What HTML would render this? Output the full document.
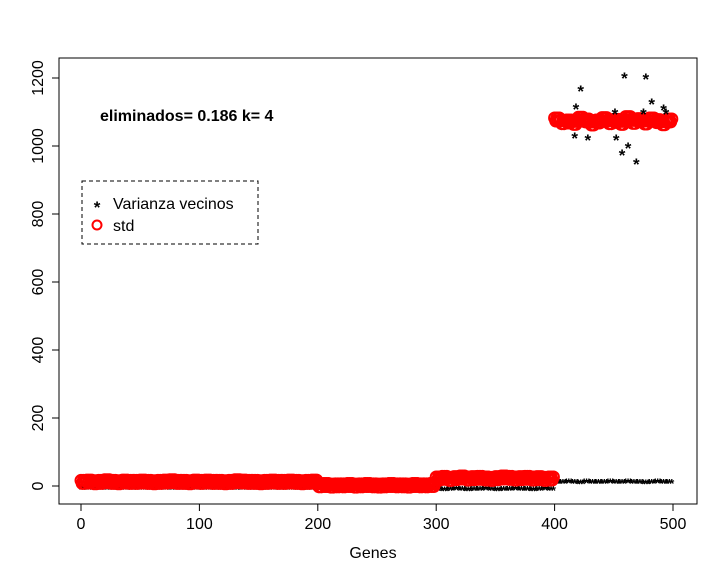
<!DOCTYPE html>
<html><head><meta charset="utf-8"><style>
body{margin:0;background:#fff}
svg text{font-family:"Liberation Sans",Arial,sans-serif}
</style></head><body>
<svg id="chart" width="720" height="576" viewBox="0 0 720 576">
<rect width="720" height="576" fill="#fff"/>
<g id="marks"></g>
<rect x="59" y="58" width="638" height="446" fill="none" stroke="#000" stroke-width="1"/>
<g id="axes"></g>
<text x="100" y="121" font-size="16" font-weight="bold">eliminados= 0.186 k= 4</text>
<g>
<rect x="82" y="181" width="176" height="63" fill="#fff" stroke="#000" stroke-dasharray="4,3"/>
<text x="97" y="213" font-size="17" font-weight="bold" text-anchor="middle">*</text>
<text x="113" y="209" font-size="16">Varianza vecinos</text>
<circle cx="97" cy="225" r="4.5" fill="none" stroke="#f00" stroke-width="2"/>
<text x="113" y="231" font-size="16">std</text>
</g>
<text x="373" y="558" font-size="16" text-anchor="middle">Genes</text>
</svg>
<script>
// genes sampled every 5
const stdValues=[12,13,11,12,14,12,11,13,12,12,13,12,11,12,13,14,12,12,11,13,12,13,12,12,11,12,14,13,12,12,11,12,13,12,12,13,12,11,12,13,
2,3,1,2,2,3,1,2,3,2,1,2,3,2,2,1,3,2,2,3,
22,24,21,23,25,22,23,24,22,21,23,25,24,22,23,24,22,23,21,22,
1078,1070,1072,1068,1080,1075,1066,1072,1079,1070,1074,1068,1082,1071,1076,1069,1078,1073,1067,1075];
const vecinosValues=[0,0,0,0,0,0,0,0,0,0,0,0,0,0,0,0,0,0,0,0,0,0,0,0,0,0,0,0,0,0,0,0,0,0,0,0,0,0,0,0,
0,0,0,0,0,0,0,0,0,0,0,0,0,0,0,0,0,0,0,0,
-3,-4,-3,-2,-3,-4,-3,-3,-2,-3,-4,-3,-3,-2,-3,-3,-4,-3,-2,-3,
18,17,19,18,16,19,18,17,18,19,17,18,19,18,17,16,18,19,18,18];
const outlierGenes=[459,477,422,482,418,492,494,451,475,417,428,452,462,457,469];
const outlierValues=[1206,1203,1168,1129,1115,1112,1100,1100,1100,1029,1024,1024,1000,979,953];
const xTicks=[0,100,200,300,400,500];
const yTicks=[0,200,400,600,800,1000,1200];
const step=5;
const NS="http://www.w3.org/2000/svg";
const xs=v=>81+v*1.184, ys=v=>486-v*0.34;
const marks=document.getElementById('marks'), axes=document.getElementById('axes');
function mk(tag,attrs,parent){const e=document.createElementNS(NS,tag);for(const k in attrs)e.setAttribute(k,attrs[k]);parent.appendChild(e);return e;}
function star(x,y,name,size){const t=mk('text',{x:x,y:y+8,'font-size':size,'font-weight':'bold','text-anchor':'middle',fill:'#000'},marks);t.textContent='*';

}
vecinosValues.forEach((v,i)=>{for(let j=0;j<step;j+=2){star(xs(i*step+j),ys(v),'vecinos-point',13);}});
stdValues.forEach((v,i)=>{for(let j=0;j<step;j++){const off=(j%2?1.5:-1.5);const c=mk('circle',{cx:xs(i*step+j),cy:ys(v)+off,r:5.5,fill:'none',stroke:'#f00','stroke-width':2},marks);

}});
outlierGenes.forEach((g,i)=>star(xs(g),ys(outlierValues[i]),'vecinos-outlier',17));
xTicks.forEach(t=>{const l=mk('line',{x1:xs(t),x2:xs(t),y1:504,y2:511,stroke:'#000'},axes);


const tx=mk('text',{x:xs(t),y:529,'font-size':16,'text-anchor':'middle'},axes);tx.textContent=t;

});
yTicks.forEach(t=>{const l=mk('line',{x1:52,x2:59,y1:ys(t),y2:ys(t),stroke:'#000'},axes);


const tx=mk('text',{x:43,y:ys(t),'font-size':16,'text-anchor':'middle',transform:`rotate(-90 43 ${ys(t)})`},axes);tx.textContent=t;

});
mk('line',{x1:xs(0),x2:xs(500),y1:504,y2:504,stroke:'#000'},axes);
mk('line',{x1:59,x2:59,y1:ys(0),y2:ys(1200),stroke:'#000'},axes);
</script>
</body></html>
